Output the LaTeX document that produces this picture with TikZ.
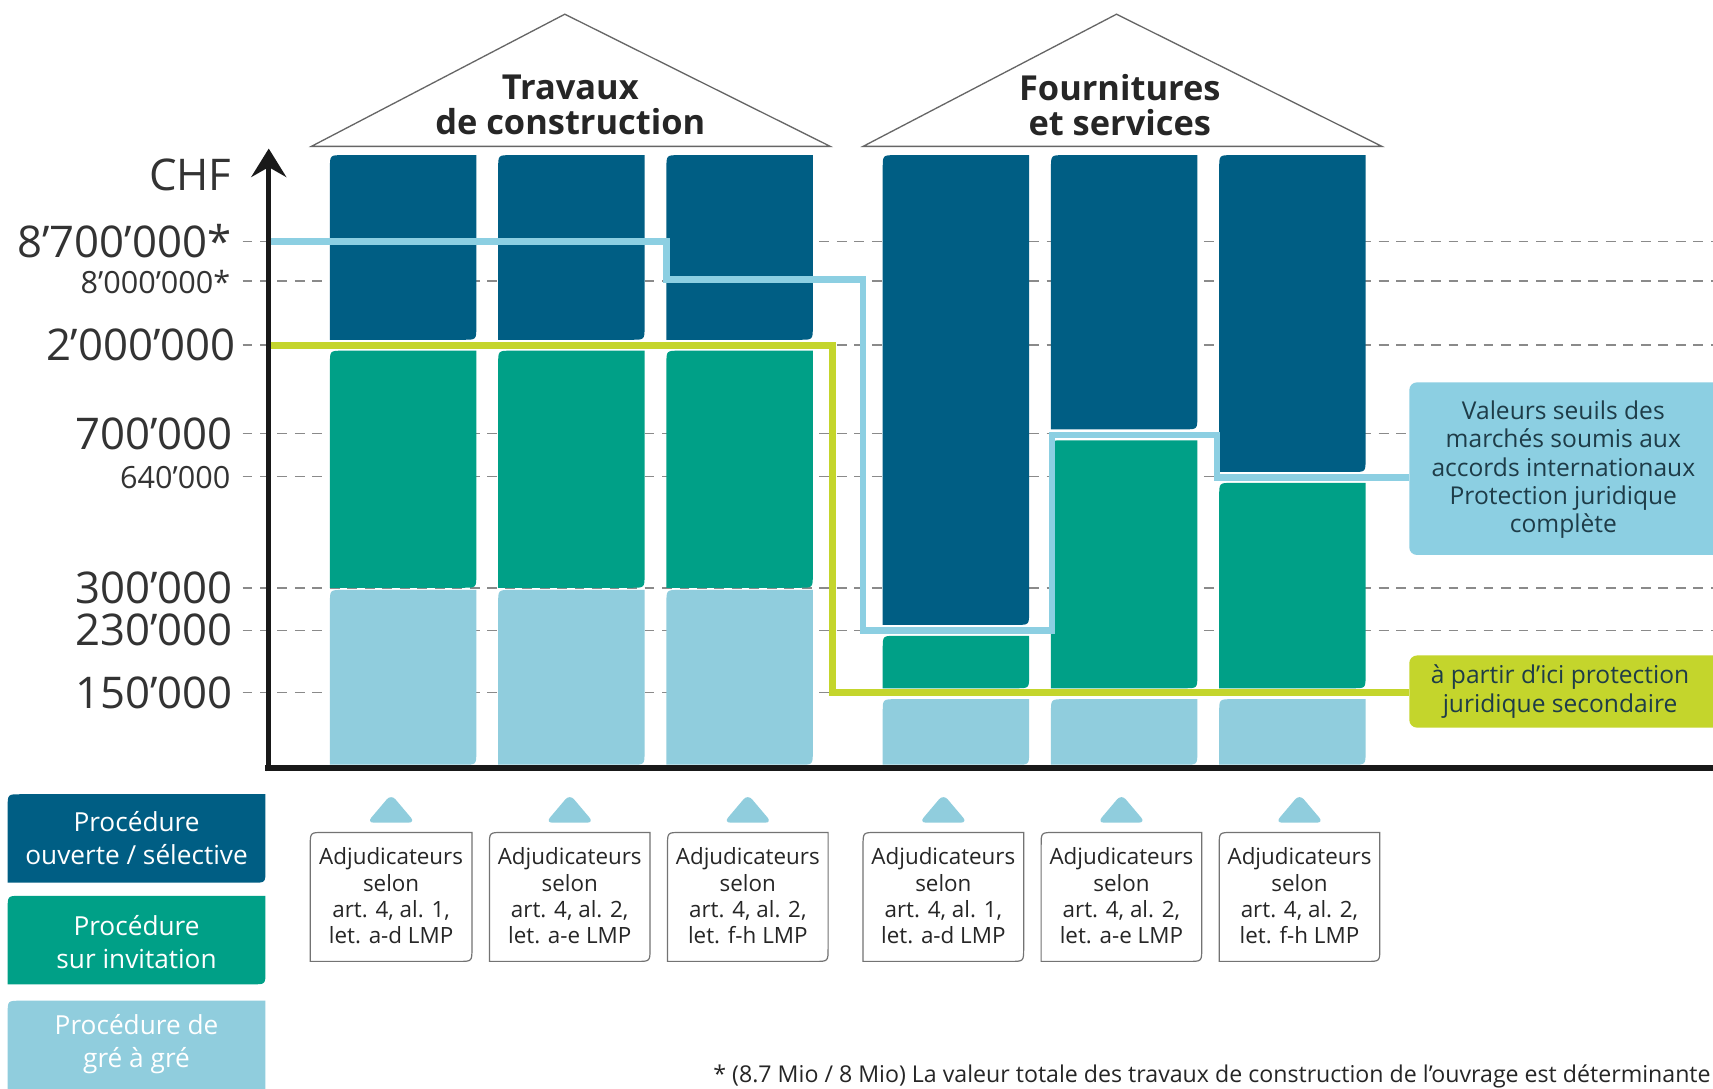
\documentclass[tikz,border=0pt]{standalone}
\usepackage{fontspec}
\setmainfont{Open Sans}
\usetikzlibrary{arrows.meta}
\definecolor{dkblue}{HTML}{005E84}
\definecolor{tealc}{HTML}{00A087}
\definecolor{ltblue}{HTML}{90CDDD}
\definecolor{bline}{HTML}{8CCFE2}
\definecolor{limec}{HTML}{C4D52C}
\definecolor{txtdark}{HTML}{1E3C48}
\definecolor{gridgray}{HTML}{8A8A8A}
\definecolor{labgray}{HTML}{333333}
% leaf shape: rounded top-left and bottom-right corners
\newcommand\leafbox[5]{%
  \path[#1] (#2,#3+12) .. controls (#2,#3) .. (#2+12,#3) -- (#4,#3) -- (#4,#5-12) .. controls (#4,#5) .. (#4-12,#5) -- (#2,#5) -- cycle;}
\tikzset{
  grid/.style={draw=gridgray, line width=1.4pt, dash pattern=on 9pt off 7pt},
  ylab/.style={anchor=east, inner sep=0pt, text=labgray, font=\fontsize{40}{44}\selectfont},
  ylabs/.style={anchor=east, inner sep=0pt, text=labgray, font=\fontsize{28}{32}\selectfont},
  roof/.style={draw=black!60, line width=1.2pt, line join=miter},
  title/.style={align=center, inner sep=0pt, text=black!85, font=\fontsize{31.5}{32}\selectfont\bfseries},
  adjtext/.style={align=center, inner sep=0pt, text=black!85, font=\fontsize{20.5}{24}\selectfont},
  adjbox/.style={draw=black!55, fill=white, line width=1.1pt},
  legtext/.style={align=center, inner sep=0pt, text=white, font=\fontsize{24}{30}\selectfont},
  calltext/.style={align=center, inner sep=0pt, text=txtdark, font=\fontsize{22.5}{25.8}\selectfont},
  bluepath/.style={draw=bline, line width=6pt, line join=miter},
  limepath/.style={draw=limec, line width=6pt, line join=miter},
  axisline/.style={draw=black!90, line width=5pt},
  drop/.style={fill=ltblue, rounded corners=6pt},
}
\begin{document}
\begin{tikzpicture}[x=1pt,y=-1pt]
\useasboundingbox (0,0) rectangle (1568,996);
\clip (0,0) rectangle (1568,996);
\fill[white] (0,0) rectangle (1568,996);

% dashed reference lines
\foreach \yy in {221,257,316,397,436,538,577,634}
  \draw[grid] (222,\yy) -- (1568,\yy);

% roofs
\draw[roof] (285,134) -- (517,13) -- (760,134) -- cycle;
\draw[roof] (790,134) -- (1022,13) -- (1265,134) -- cycle;
\node[title] (t1) at (522,96) {Travaux\\de construction};
\node[title] (t2) at (1025,96) {Fournitures\\et services};

% columns: construction works
\foreach \xa in {302,456,610}{
  \leafbox{fill=dkblue}{\xa}{142}{\xa+134}{311}
  \leafbox{fill=tealc}{\xa}{321}{\xa+134}{538}
  \leafbox{fill=ltblue}{\xa}{540}{\xa+134}{700}
}
% columns: supplies and services
\leafbox{fill=dkblue}{808}{142}{942}{572}
\leafbox{fill=tealc}{808}{582}{942}{630}
\leafbox{fill=ltblue}{808}{640}{942}{700}
\leafbox{fill=dkblue}{962}{142}{1096}{393}
\leafbox{fill=tealc}{962}{403}{1096}{630}
\leafbox{fill=ltblue}{962}{640}{1096}{700}
\leafbox{fill=dkblue}{1116}{142}{1250}{432}
\leafbox{fill=tealc}{1116}{442}{1250}{630}
\leafbox{fill=ltblue}{1116}{640}{1250}{700}

% callout boxes
\fill[bline, rounded corners=7pt] (1290,350) rectangle (1590,508);
\fill[limec, rounded corners=7pt] (1290,600) rectangle (1590,666);
\node[calltext] (c1) at (1431,430) {Valeurs seuils des\\marchés soumis aux\\accords internationaux\\Protection juridique\\complète};
\node[calltext] (c2) at (1428,633) {à partir d’ici protection\\juridique secondaire};
\coordinate (c1in) at (1290,437);
\coordinate (c2in) at (1290,634);

% threshold lines
\coordinate (bstart) at (246,221);
\coordinate (lstart) at (246,316);
\draw[bluepath] (bstart) -- (610,221) -- (610,256) -- (790,256) -- (790,577) -- (963,577) -- (963,398) -- (1114,398) -- (1114,437) -- (c1in);
\draw[limepath] (lstart) -- (762,316) -- (762,634) -- (c2in);

% axes
\coordinate (ytop) at (246,136);
\coordinate (xend) at (1568,703);
\draw[axisline] (243,703) -- (xend);
\draw[axisline, -{Stealth[length=26pt,width=32pt,inset=9pt]}] (246,706) -- (ytop);

% axis labels
\node[ylab] (chf) at (212,160) {CHF};
\node[ylab] (l87) at (212,221) {8’700’000*};
\node[ylabs] (l8) at (211,258) {8’000’000*};
\node[ylab] (l2) at (216,316) {2’000’000};
\node[ylab] (l700) at (213,397) {700’000};
\node[ylabs] (l640) at (211,437) {640’000};
\node[ylab] (l300) at (213,538) {300’000};
\node[ylab] (l230) at (213,577) {230’000};
\node[ylab] (l150) at (213,634) {150’000};

% legend
\leafbox{fill=dkblue}{7}{727}{243}{808}
\leafbox{fill=tealc}{7}{820}{243}{901}
\leafbox{fill=ltblue}{7}{916}{243}{1002}
\node[legtext] (g1) at (125,767) {Procédure\\ouverte / sélective};
\node[legtext] (g2) at (125,862) {Procédure\\sur invitation};
\node[legtext] (g3) at (125,956) {Procédure de\\gré à gré};

% adjudicator boxes
\foreach \xa/\xb/\nm/\al/\lt in {284/432/a1/1/a-d, 448/595/a2/2/a-e, 611/758/a3/2/f-h, 790/937/a4/1/a-d, 953/1100/a5/2/a-e, 1116/1263/a6/2/f-h}{
  \fill[drop] ({(\xa+\xb)/2-22},753) -- ({(\xa+\xb)/2},727) -- ({(\xa+\xb)/2+22},753) -- cycle;
  \leafbox{adjbox}{\xa}{762}{\xb}{880}
  \node[adjtext] (\nm) at ({(\xa+\xb)/2},820) {Adjudicateurs\\selon\\art. 4, al. \al,\\let. \lt\ LMP};
}

% footnote
\node[anchor=east, inner sep=0pt, text=black!85, font=\fontsize{21.2}{24}\selectfont] (fn) at (1566,985)
  {* (8.7 Mio / 8 Mio) La valeur totale des travaux de construction de l’ouvrage est déterminante};
\end{tikzpicture}
\end{document}
